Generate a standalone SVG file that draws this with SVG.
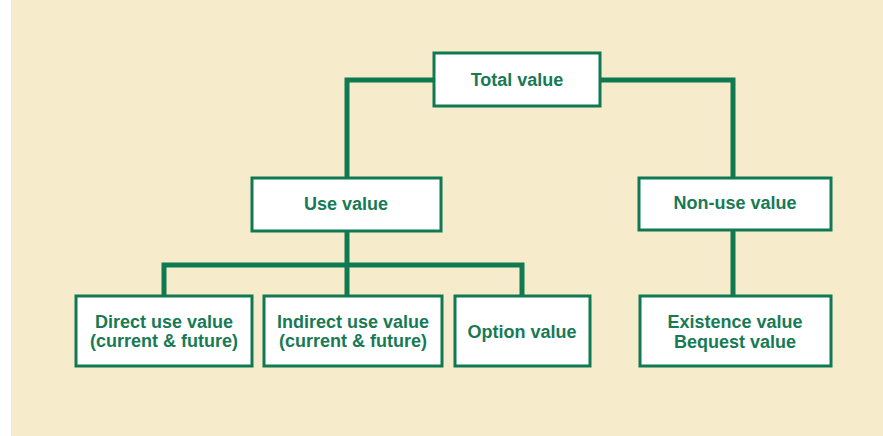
<svg xmlns="http://www.w3.org/2000/svg" width="883" height="436" viewBox="0 0 883 436">
<style>
.bg{fill:#f6ebcb}
.box{fill:#ffffff;stroke:#0f7a52;stroke-width:3}
.conn{fill:none;stroke:#0f7a52;stroke-width:5;stroke-linejoin:miter}
.lbl{font-family:"Liberation Sans",Arial,sans-serif;font-weight:bold;font-size:18px;fill:#177a55;text-anchor:middle}
</style>
<rect class="bg" x="11" y="0" width="872" height="436"/>
<g id="connectors">
<polyline class="conn" points="433,80 347,80 347,178"/>
<polyline class="conn" points="600,80 733,80 733,178"/>
<line class="conn" x1="347" y1="231" x2="347" y2="295"/>
<polyline class="conn" points="164,295 164,265 522,265 522,295"/>
<line class="conn" x1="733" y1="230" x2="733" y2="295"/>
</g>
<g id="total">
<rect class="box" x="434" y="53" width="166" height="53"/>
<text class="lbl" x="517" y="86">Total value</text>
</g>
<g id="use">
<rect class="box" x="252" y="178" width="189" height="53"/>
<text class="lbl" x="346" y="210">Use value</text>
</g>
<g id="nonuse">
<rect class="box" x="639" y="178" width="192" height="52"/>
<text class="lbl" x="735" y="209">Non-use value</text>
</g>
<g id="direct">
<rect class="box" x="76" y="296" width="176" height="70"/>
<text class="lbl" x="164" y="328">Direct use value</text>
<text class="lbl" x="164" y="347">(current &amp; future)</text>
</g>
<g id="indirect">
<rect class="box" x="264" y="296" width="178" height="70"/>
<text class="lbl" x="353" y="328">Indirect use value</text>
<text class="lbl" x="353" y="347">(current &amp; future)</text>
</g>
<g id="option">
<rect class="box" x="455" y="296" width="135" height="70"/>
<text class="lbl" x="522" y="338">Option value</text>
</g>
<g id="existence">
<rect class="box" x="640" y="296" width="191" height="70"/>
<text class="lbl" x="735" y="328">Existence value</text>
<text class="lbl" x="735" y="348">Bequest value</text>
</g>
</svg>
